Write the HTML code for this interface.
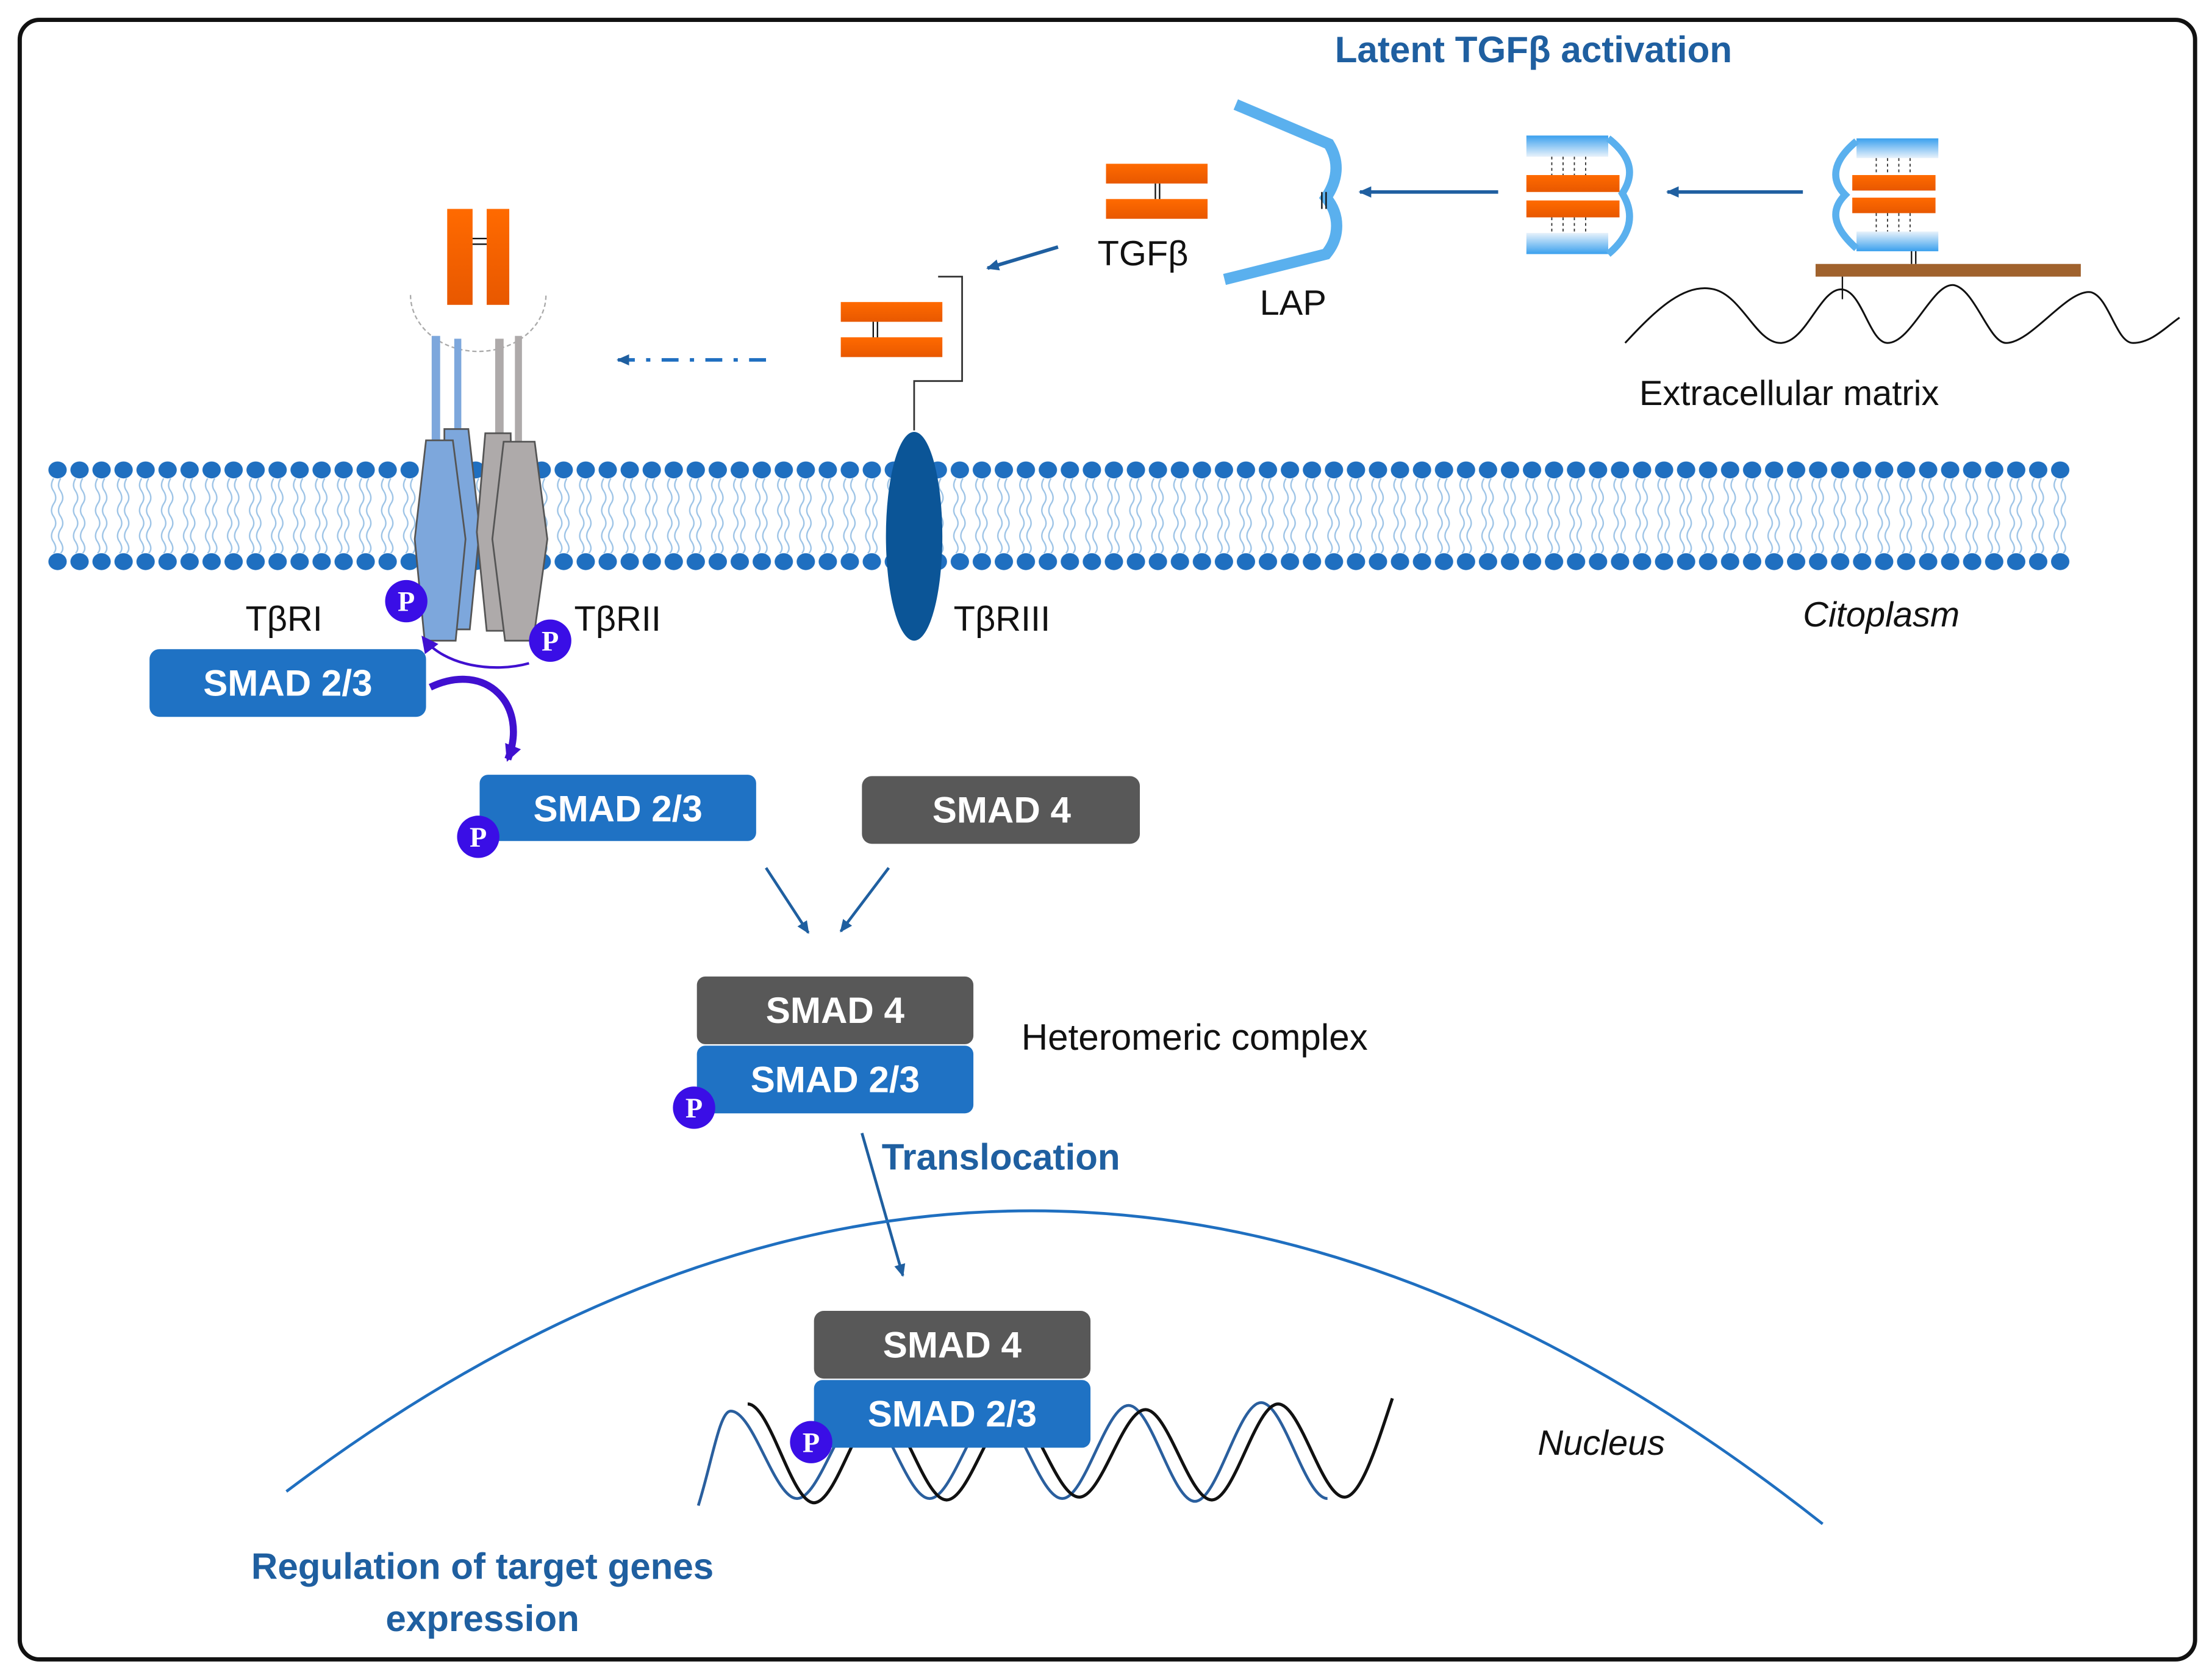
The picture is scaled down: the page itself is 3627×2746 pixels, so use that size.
<!DOCTYPE html>
<html><head><meta charset="utf-8"><style>
html,body{margin:0;padding:0;background:#fff;}
svg{display:block;}
text{font-family:"Liberation Sans",sans-serif;}
.b{font-weight:bold;fill:#fff;font-size:26px;text-anchor:middle;}
.p{font-family:"Liberation Serif",serif;font-weight:bold;fill:#fff;font-size:20px;text-anchor:middle;}
</style></head><body>
<svg width="3627" height="2746" viewBox="0 0 1568 1187" xmlns="http://www.w3.org/2000/svg">
<defs>
<pattern id="dots" x="33" y="0" width="15.6" height="1187" patternUnits="userSpaceOnUse">
<ellipse cx="7.8" cy="333" rx="6.5" ry="6" fill="#1f6fc0"/>
<ellipse cx="7.8" cy="398" rx="6.5" ry="6" fill="#1f6fc0"/>
<path d="M5,339 q-3,5 0,9 q3,5 0,9 q-3,5 0,9 q3,5 0,9 q-3,5 0,9 q3,5 0,8 M10,339 q-3,5 0,9 q3,5 0,9 q-3,5 0,9 q3,5 0,9 q-3,5 0,9 q3,5 0,8" fill="none" stroke="#9cc3e6" stroke-width="1"/>
</pattern>
<marker id="ah" markerWidth="10" markerHeight="10" refX="8" refY="5" orient="auto" markerUnits="userSpaceOnUse"><path d="M0,1 L9,5 L0,9 Z" fill="#1f5fa0"/></marker>
<marker id="ap" markerWidth="14" markerHeight="14" refX="10" refY="7" orient="auto" markerUnits="userSpaceOnUse"><path d="M0,1 L12,7 L0,13 Z" fill="#4010d0"/></marker>
<linearGradient id="lap" x1="0" y1="0" x2="0" y2="1"><stop offset="0" stop-color="#3aa0ee"/><stop offset="1" stop-color="#e8f2fb"/></linearGradient>
<linearGradient id="org" x1="0" y1="0" x2="0" y2="1"><stop offset="0" stop-color="#ff6a00"/><stop offset="1" stop-color="#e85800"/></linearGradient>
</defs>
<rect x="0" y="0" width="1568" height="1187" fill="#fff"/>
<rect x="14" y="14" width="1542" height="1162" rx="14" fill="none" stroke="#111" stroke-width="3"/>

<text x="1087" y="44" font-size="26" font-weight="bold" fill="#1f5fa0" text-anchor="middle">Latent TGFβ activation</text>

<rect x="33" y="320" width="1436" height="90" fill="url(#dots)"/>

<!-- ECM -->
<path d="M1152,243 C1175,218 1195,200 1215,205 C1235,210 1245,243 1262,243 C1280,243 1290,205 1305,205 C1320,205 1325,243 1338,243 C1355,243 1370,200 1385,202 C1400,205 1410,243 1422,243 C1440,243 1465,205 1482,207 C1495,210 1500,243 1512,243 C1525,243 1535,232 1545,225" fill="none" stroke="#111" stroke-width="1.3"/>
<rect x="1287" y="187" width="188" height="9" fill="#a0622d"/>
<line x1="1306" y1="196" x2="1306" y2="212" stroke="#111" stroke-width="1"/>
<line x1="1355" y1="177" x2="1355" y2="187" stroke="#111" stroke-width="1"/>
<line x1="1358" y1="177" x2="1358" y2="187" stroke="#111" stroke-width="1"/>
<text x="1162" y="287" font-size="25" fill="#111">Extracellular matrix</text>

<rect x="1316" y="98" width="58" height="14" fill="url(#lap)"/>
<rect x="1316" y="164" width="58" height="14" fill="url(#lap)" transform="rotate(180 1345 171)"/>
<path d="M1316,100 C1298,115 1298,128 1308,138 C1298,148 1298,160 1316,176" fill="none" stroke="#5ab0ee" stroke-width="5"/>
<rect x="1313" y="124" width="59" height="11" fill="url(#org)"/>
<rect x="1313" y="140" width="59" height="11" fill="url(#org)"/>
<g stroke="#333" stroke-width="0.8" stroke-dasharray="2,2"><line x1="1330" y1="112" x2="1330" y2="124"/><line x1="1338" y1="112" x2="1338" y2="124"/><line x1="1346" y1="112" x2="1346" y2="124"/><line x1="1354" y1="112" x2="1354" y2="124"/><line x1="1330" y1="151" x2="1330" y2="164"/><line x1="1338" y1="151" x2="1338" y2="164"/><line x1="1346" y1="151" x2="1346" y2="164"/><line x1="1354" y1="151" x2="1354" y2="164"/></g>
<line x1="1278" y1="136" x2="1182" y2="136" stroke="#1f5fa0" stroke-width="2.5" marker-end="url(#ah)"/>

<rect x="1082" y="96" width="58" height="15" fill="url(#lap)"/>
<rect x="1082" y="166" width="58" height="15" fill="url(#lap)" transform="rotate(180 1111 173)"/>
<path d="M1140,98 C1158,112 1158,125 1150,137 C1158,150 1158,165 1140,180" fill="none" stroke="#5ab0ee" stroke-width="5"/>
<rect x="1082" y="124" width="66" height="12" fill="url(#org)"/>
<rect x="1082" y="142" width="66" height="12" fill="url(#org)"/>
<g stroke="#333" stroke-width="0.8" stroke-dasharray="2,2"><line x1="1100" y1="111" x2="1100" y2="124"/><line x1="1108" y1="111" x2="1108" y2="124"/><line x1="1116" y1="111" x2="1116" y2="124"/><line x1="1124" y1="111" x2="1124" y2="124"/><line x1="1100" y1="154" x2="1100" y2="166"/><line x1="1108" y1="154" x2="1108" y2="166"/><line x1="1116" y1="154" x2="1116" y2="166"/><line x1="1124" y1="154" x2="1124" y2="166"/></g>
<line x1="1062" y1="136" x2="964" y2="136" stroke="#1f5fa0" stroke-width="2.5" marker-end="url(#ah)"/>

<path d="M876,74 L942,102 C950,115 948,128 940,140 C950,152 950,168 940,180 L868,198" fill="none" stroke="#5ab0ee" stroke-width="8"/>
<line x1="937" y1="136" x2="937" y2="148" stroke="#111"/><line x1="940" y1="136" x2="940" y2="148" stroke="#111"/>
<text x="893" y="223" font-size="25" fill="#111">LAP</text>

<rect x="784" y="116" width="72" height="14" fill="url(#org)"/>
<rect x="784" y="141" width="72" height="14" fill="url(#org)"/>
<line x1="819" y1="130" x2="819" y2="141" stroke="#111"/><line x1="822" y1="130" x2="822" y2="141" stroke="#111"/>
<text x="778" y="188" font-size="25" fill="#111">TGFβ</text>
<line x1="750" y1="175" x2="700" y2="190" stroke="#1f5fa0" stroke-width="2.5" marker-end="url(#ah)"/>

<path d="M648,305 L648,270 L682,270 L682,196 L665,196" fill="none" stroke="#333" stroke-width="1.2"/>
<rect x="596" y="214" width="72" height="14" fill="url(#org)"/>
<rect x="596" y="239" width="72" height="14" fill="url(#org)"/>
<line x1="619" y1="228" x2="619" y2="239" stroke="#111"/><line x1="622" y1="228" x2="622" y2="239" stroke="#111"/>
<ellipse cx="648" cy="380" rx="20" ry="74" fill="#0b5597"/>
<text x="676" y="447" font-size="25" fill="#111">TβRIII</text>

<line x1="543" y1="255" x2="438" y2="255" stroke="#1f6fc0" stroke-width="2.5" stroke-dasharray="12,8,3,8" marker-end="url(#ah)"/>

<path d="M291,209 A48,40 0 0 0 387,209" fill="none" stroke="#aaa" stroke-width="1" stroke-dasharray="3,2"/>
<rect x="317" y="148" width="18" height="68" fill="url(#org)"/>
<rect x="345" y="148" width="16" height="68" fill="url(#org)"/>
<line x1="335" y1="169" x2="345" y2="169" stroke="#111"/><line x1="335" y1="173" x2="345" y2="173" stroke="#111"/>
<rect x="306" y="238" width="6" height="75" fill="#7da7dc"/>
<rect x="322" y="240" width="5" height="70" fill="#7da7dc"/>
<rect x="351" y="240" width="6" height="70" fill="#aeaaaa"/>
<rect x="365" y="238" width="5" height="75" fill="#aeaaaa"/>
<polygon points="315,304 332,304 340,375 333,446 315,446" fill="#7da7dc" stroke="#555" stroke-width="1.2"/>
<polygon points="344,307 362,307 364,447 345,447 338,377" fill="#aeaaaa" stroke="#555" stroke-width="1.2"/>
<polygon points="302,312 321,312 330,382 323,454 301,454 294,382" fill="#7da7dc" stroke="#555" stroke-width="1.2"/>
<polygon points="357,313 379,313 388,382 378,454 358,454 349,382" fill="#aeaaaa" stroke="#555" stroke-width="1.2"/>
<text x="174" y="447" font-size="25" fill="#111">TβRI</text>
<text x="407" y="447" font-size="25" fill="#111">TβRII</text>

<text x="1278" y="444" font-size="25" font-style="italic" fill="#111">Citoplasm</text>

<path d="M375,470 C350,477 315,472 300,452" fill="none" stroke="#4010d0" stroke-width="1.8" marker-end="url(#ap)"/>
<path d="M305,487 C345,468 375,500 360,538" fill="none" stroke="#4010d0" stroke-width="5" marker-end="url(#ap)"/>

<rect x="106" y="460" width="196" height="48" rx="7" fill="#1f72c4"/><text class="b" x="204" y="493">SMAD 2/3</text>
<rect x="340" y="549" width="196" height="47" rx="6" fill="#1f72c4"/><text class="b" x="438" y="582">SMAD 2/3</text>
<rect x="611" y="550" width="197" height="48" rx="7" fill="#585858"/><text class="b" x="710" y="583">SMAD 4</text>
<line x1="543" y1="615" x2="573" y2="661" stroke="#1f5fa0" stroke-width="2" marker-end="url(#ah)"/>
<line x1="630" y1="615" x2="596" y2="660" stroke="#1f5fa0" stroke-width="2" marker-end="url(#ah)"/>
<rect x="494" y="692" width="196" height="48" rx="6" fill="#585858"/><text class="b" x="592" y="725">SMAD 4</text>
<rect x="494" y="741" width="196" height="48" rx="6" fill="#1f72c4"/><text class="b" x="592" y="774">SMAD 2/3</text>
<text x="724" y="744" font-size="26" fill="#111">Heteromeric complex</text>
<line x1="611" y1="803" x2="640" y2="904" stroke="#1f5fa0" stroke-width="2" marker-end="url(#ah)"/>
<text x="625" y="829" font-size="26" font-weight="bold" fill="#1f5fa0">Translocation</text>

<path d="M203,1057 Q745,648 1292,1080" fill="none" stroke="#1f6fc0" stroke-width="2"/>
<text x="1090" y="1031" font-size="25" font-style="italic" fill="#111">Nucleus</text>

<path d="M495,1067 C505,1035 510,1000 518,1000 c16,0 31,62 47,62 s31,-62 47,-62 s31,62 47,62 s31,-62 47,-62 s31,62 47,62 s31,-66 47,-66 s31,68 47,68 s31,-70 47,-70 s31,68 47,68" fill="none" stroke="#2a5f9e" stroke-width="2"/>
<path d="M530,995 c16,0 31,70 47,70 s31,-66 47,-66 s31,64 47,64 s31,-62 47,-62 s31,60 47,60 s31,-62 47,-62 s31,64 47,64 s31,-68 47,-68 s31,66 47,66 c12,0 24,-40 34,-70" fill="none" stroke="#111" stroke-width="2.2"/>
<rect x="577" y="929" width="196" height="48" rx="7" fill="#585858"/><text class="b" x="675" y="962">SMAD 4</text>
<rect x="577" y="978" width="196" height="48" rx="6" fill="#1f72c4"/><text class="b" x="675" y="1011">SMAD 2/3</text>

<text x="342" y="1119" font-size="26" font-weight="bold" fill="#1f5fa0" text-anchor="middle">Regulation of target genes</text>
<text x="342" y="1156" font-size="26" font-weight="bold" fill="#1f5fa0" text-anchor="middle">expression</text>

<g fill="#3a0ee6">
<circle cx="288" cy="426" r="15"/><circle cx="390" cy="454" r="15"/><circle cx="339" cy="593" r="15"/><circle cx="492" cy="785" r="15"/><circle cx="575" cy="1022" r="15"/></g>
<text class="p" x="288" y="433">P</text><text class="p" x="390" y="461">P</text><text class="p" x="339" y="600">P</text><text class="p" x="492" y="792">P</text><text class="p" x="575" y="1029">P</text>
</svg>
</body></html>
